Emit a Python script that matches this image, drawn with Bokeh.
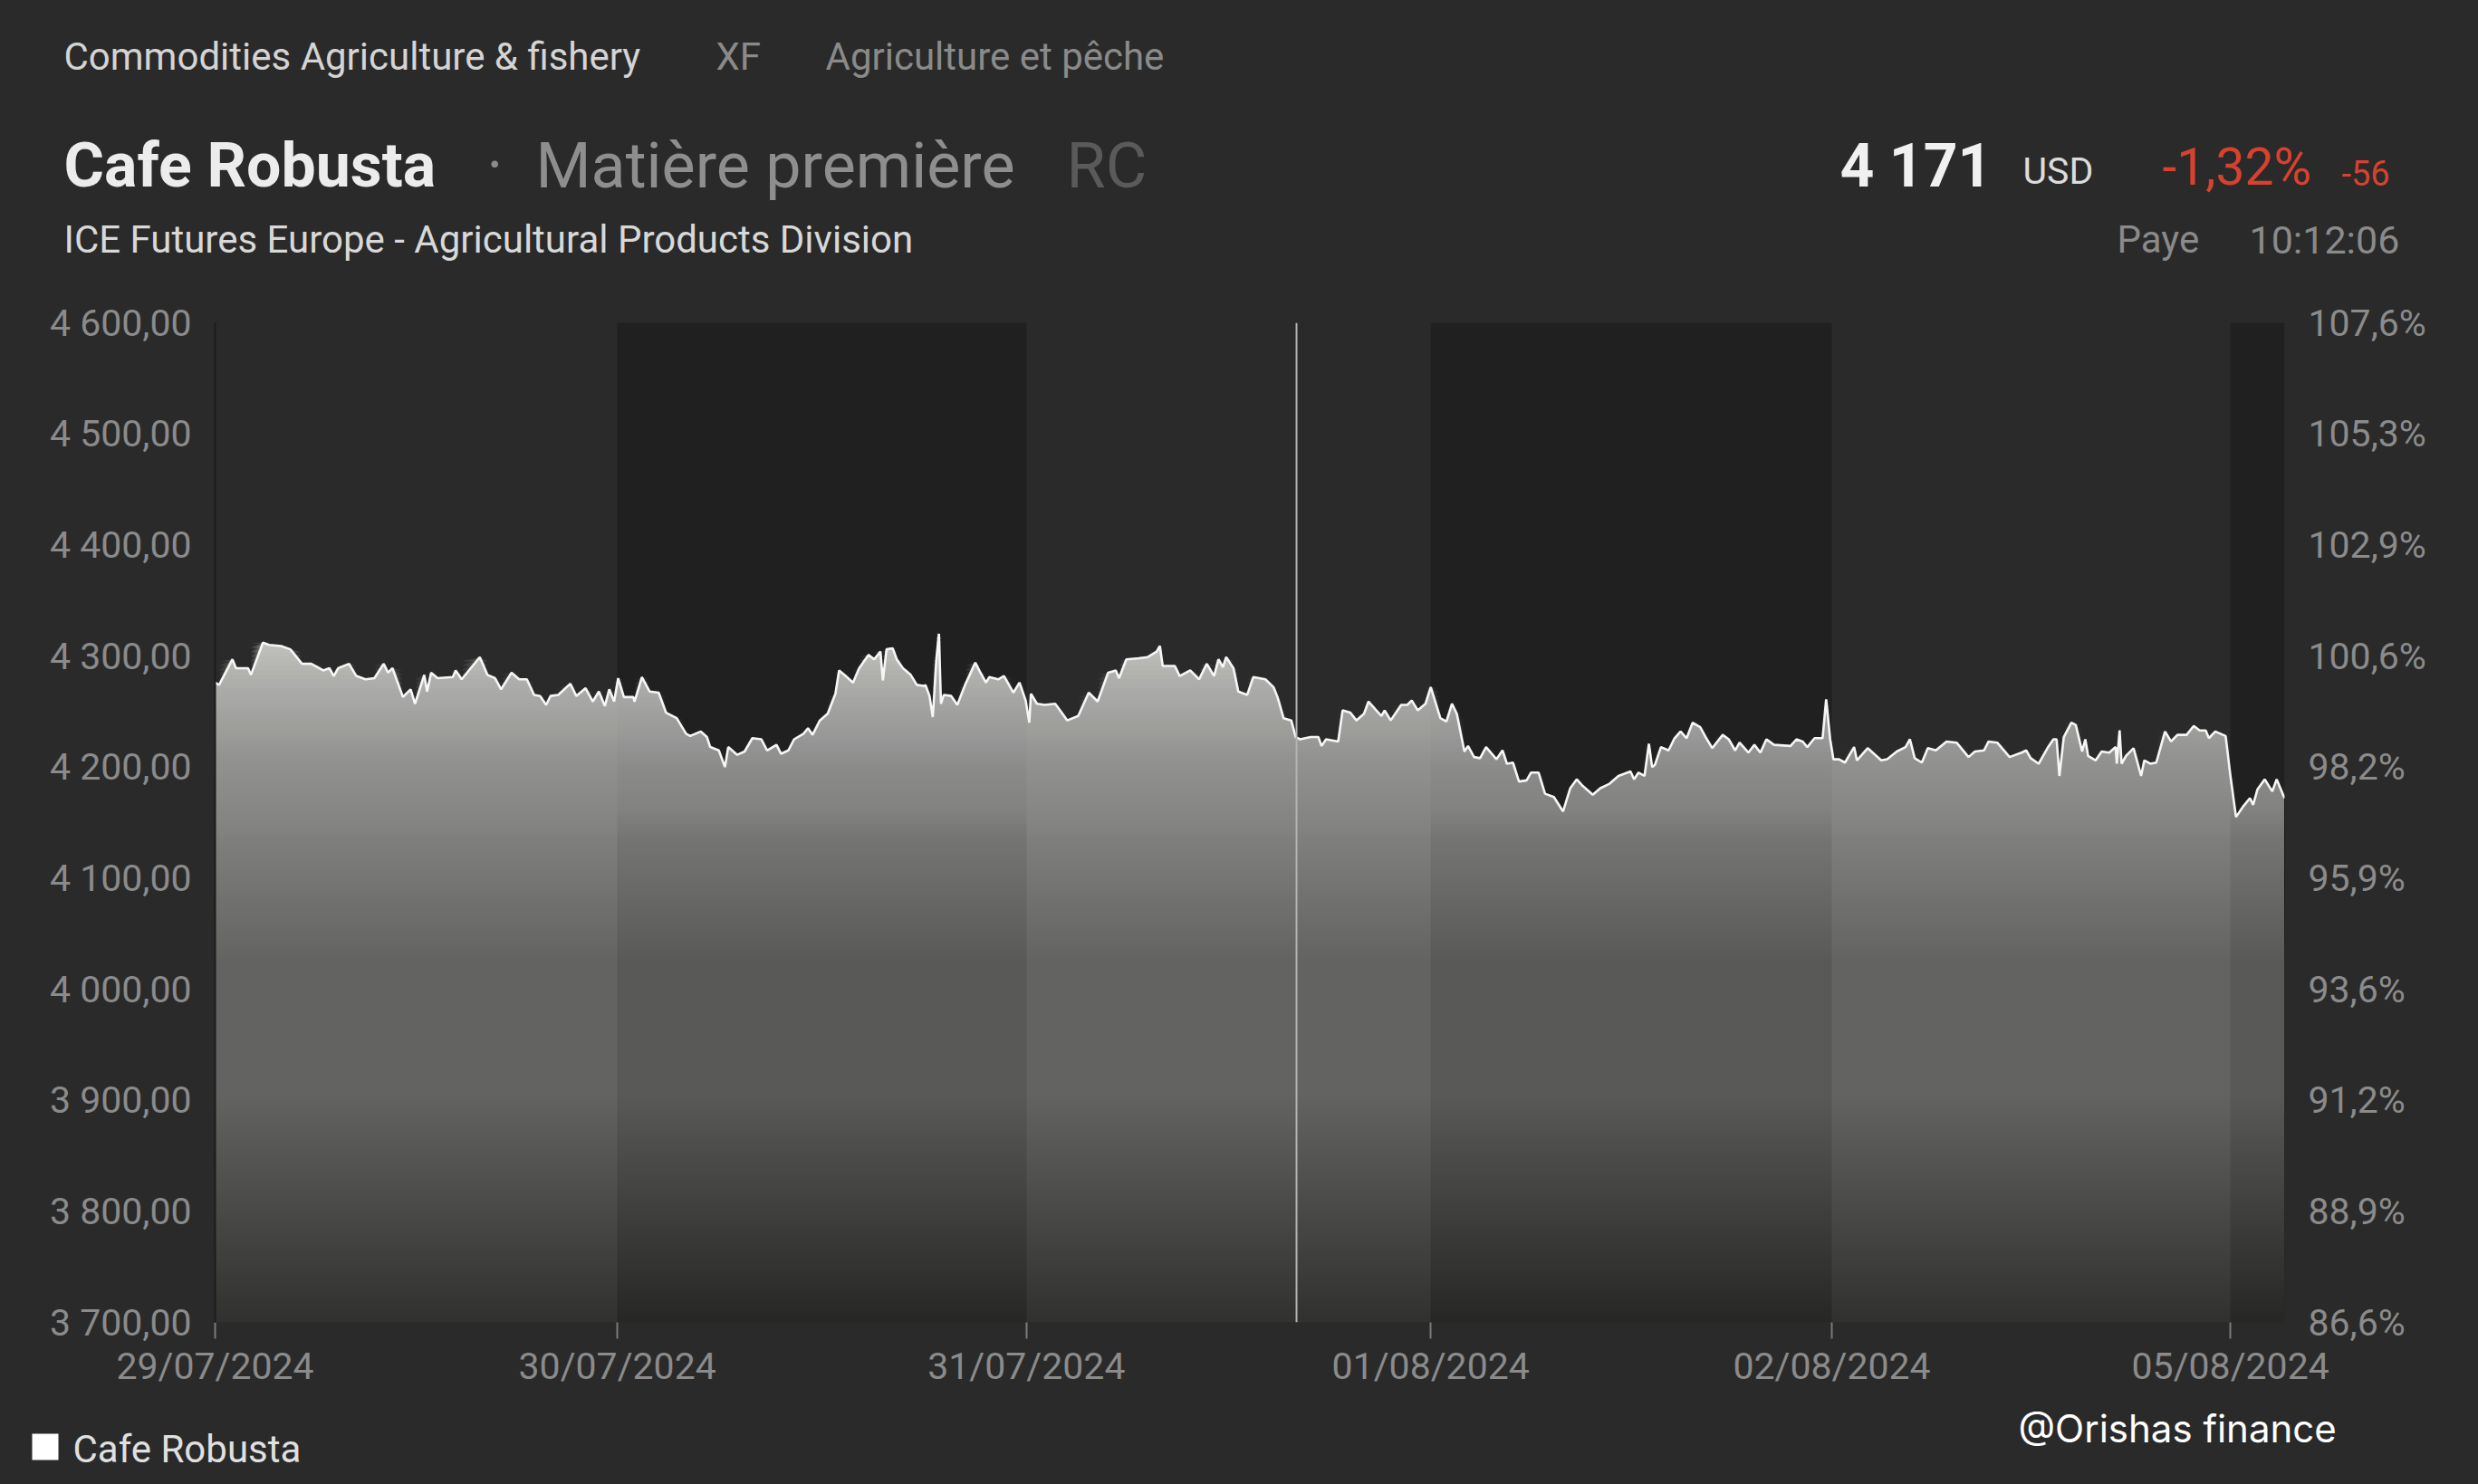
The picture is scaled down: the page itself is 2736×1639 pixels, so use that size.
import numpy as np
from bokeh.plotting import figure
from bokeh.layouts import column
from bokeh.models import Range1d, LinearAxis, FixedTicker, Span
from bokeh.core.properties import value
from bokeh.embed import file_html
from bokeh.resources import INLINE

# ---------------- data ----------------
# time in trading-session units (0 = 29/07 open, 1 = 30/07 open, ...)
times = [
    0.000, 0.010, 0.043, 0.052, 0.082, 0.089, 0.119, 0.134, 0.164, 0.187,
    0.216, 0.239, 0.269, 0.284, 0.295, 0.306, 0.333, 0.351, 0.374, 0.396,
    0.419, 0.430, 0.441, 0.467, 0.486, 0.497, 0.520, 0.527, 0.537, 0.553,
    0.591, 0.598, 0.613, 0.658, 0.677, 0.696, 0.711, 0.737, 0.756, 0.775,
    0.793, 0.808, 0.823, 0.834, 0.853, 0.883, 0.898, 0.921, 0.939, 0.954,
    0.969, 0.980, 0.992,
    1.002, 1.016, 1.039, 1.042, 1.060, 1.079, 1.101, 1.119, 1.145, 1.168,
    1.178, 1.204, 1.219, 1.227, 1.248, 1.263, 1.271, 1.293, 1.311, 1.330,
    1.352, 1.366, 1.389, 1.400, 1.418, 1.432, 1.455, 1.466, 1.477, 1.495,
    1.514, 1.533, 1.542, 1.558, 1.576, 1.591, 1.614, 1.628, 1.643, 1.649,
    1.658, 1.673, 1.683, 1.698, 1.717, 1.732, 1.750, 1.753, 1.763, 1.771,
    1.780, 1.786, 1.791, 1.798, 1.816, 1.831, 1.850, 1.875, 1.886, 1.901,
    1.909, 1.931, 1.945, 1.968, 1.983, 1.998,
    2.007, 2.011, 2.026, 2.045, 2.071, 2.083, 2.101, 2.128, 2.154, 2.176,
    2.202, 2.221, 2.229, 2.247, 2.277, 2.300, 2.322, 2.330, 2.337, 2.367,
    2.379, 2.405, 2.427, 2.446, 2.464, 2.475, 2.486, 2.494, 2.512, 2.524,
    2.546, 2.561, 2.591, 2.611, 2.621, 2.636, 2.655, 2.666, 2.677, 2.703,
    2.722, 2.730, 2.741, 2.771, 2.782, 2.801, 2.816, 2.835, 2.846, 2.863,
    2.878, 2.886, 2.901, 2.927, 2.942, 2.953, 2.968, 2.987, 3.000,
    3.024, 3.039, 3.053, 3.065, 3.084, 3.093, 3.108, 3.123, 3.138, 3.164,
    3.179, 3.190, 3.205, 3.220, 3.239, 3.250, 3.269, 3.285, 3.307, 3.330,
    3.348, 3.364, 3.379, 3.404, 3.423, 3.446, 3.468, 3.498, 3.507, 3.518,
    3.533, 3.544, 3.552, 3.559, 3.574, 3.593, 3.608, 3.623, 3.638, 3.653,
    3.672, 3.687, 3.702, 3.728, 3.743, 3.759, 3.770, 3.792, 3.807, 3.822,
    3.837, 3.856, 3.897, 3.912, 3.927, 3.939, 3.957, 3.977, 3.986, 3.996,
    4.004, 4.018, 4.033, 4.056, 4.063, 4.090, 4.124, 4.139, 4.163, 4.185,
    4.196, 4.208, 4.226, 4.241, 4.261, 4.288, 4.313, 4.343, 4.359, 4.382,
    4.393, 4.415, 4.446, 4.476, 4.488, 4.499, 4.519, 4.541, 4.556, 4.564,
    4.571, 4.582, 4.601, 4.612, 4.628, 4.636, 4.643, 4.662, 4.677, 4.696,
    4.712, 4.715, 4.722, 4.727, 4.738, 4.757, 4.776, 4.784, 4.799, 4.814,
    4.836, 4.851, 4.867, 4.890, 4.908, 4.923, 4.938, 4.946, 4.962, 4.988,
    5.000,
    5.014, 5.033, 5.049, 5.057, 5.068, 5.086, 5.105, 5.116, 5.131, 5.136,
]
prices = [
    4276, 4274, 4297, 4289, 4289, 4283, 4312, 4310, 4309, 4306,
    4293, 4293, 4287, 4289, 4282, 4289, 4293, 4282, 4279, 4280,
    4293, 4285, 4289, 4263, 4270, 4257, 4283, 4268, 4285, 4280,
    4281, 4287, 4279, 4299, 4283, 4280, 4270, 4285, 4279, 4279,
    4265, 4264, 4256, 4264, 4265, 4275, 4264, 4271, 4259, 4268,
    4255, 4270, 4259,
    4280, 4263, 4263, 4259, 4281, 4268, 4267, 4249, 4244, 4230,
    4228, 4232, 4227, 4218, 4215, 4200, 4218, 4211, 4214, 4226,
    4225, 4215, 4220, 4212, 4215, 4225, 4230, 4235, 4229, 4242,
    4248, 4266, 4287, 4282, 4276, 4289, 4301, 4297, 4304, 4278,
    4306, 4307, 4297, 4289, 4283, 4274, 4273, 4274, 4264, 4245,
    4298, 4320, 4257, 4265, 4264, 4256, 4274, 4294, 4286, 4276,
    4281, 4279, 4282, 4267, 4276, 4260,
    4240, 4266, 4257, 4256, 4257, 4251, 4242, 4246, 4267, 4259,
    4285, 4287, 4280, 4297, 4298, 4299, 4304, 4309, 4291, 4291,
    4282, 4287, 4279, 4293, 4282, 4297, 4290, 4299, 4289, 4268,
    4265, 4281, 4279, 4272, 4263, 4244, 4242, 4227, 4225, 4227,
    4227, 4219, 4225, 4223, 4251, 4249, 4242, 4248, 4259, 4252,
    4246, 4251, 4242, 4256, 4256, 4260, 4251, 4257, 4272,
    4244, 4241, 4257, 4248, 4214, 4219, 4209, 4208, 4218, 4207,
    4215, 4203, 4204, 4187, 4188, 4195, 4195, 4176, 4173, 4160,
    4181, 4189, 4183, 4175, 4181, 4185, 4192, 4196, 4189, 4195,
    4192, 4221, 4200, 4202, 4218, 4215, 4226, 4232, 4226, 4240,
    4236, 4226, 4217, 4229, 4225, 4215, 4222, 4213, 4220, 4213,
    4225, 4220, 4219, 4225, 4223, 4218, 4226, 4226, 4261, 4225,
    4207, 4207, 4204, 4218, 4206, 4217, 4206, 4207, 4214, 4218,
    4225, 4208, 4204, 4217, 4215, 4223, 4222, 4209, 4214, 4215,
    4223, 4222, 4209, 4213, 4215, 4208, 4203, 4217, 4225, 4225,
    4192, 4227, 4240, 4238, 4214, 4225, 4210, 4206, 4214, 4213,
    4218, 4203, 4233, 4203, 4210, 4217, 4192, 4206, 4203, 4204,
    4232, 4223, 4229, 4229, 4237, 4233, 4233, 4226, 4232, 4228,
    4192,
    4155, 4165, 4172, 4166, 4180, 4189, 4178, 4189, 4176, 4172,
]

# where each session (date) starts on the chart's time axis
session_index = [0, 1, 2, 3, 4, 5, 6]
session_starts = [0.0, 0.998, 2.013, 3.016, 4.011, 5.0, 5.989]
day_labels = ["29/07/2024", "30/07/2024", "31/07/2024",
              "01/08/2024", "02/08/2024", "05/08/2024"]
shaded_sessions = [1, 3, 5]

price_ticks = [3700, 3800, 3900, 4000, 4100, 4200, 4300, 4400, 4500, 4600]
price_labels = ["3 700,00", "3 800,00", "3 900,00", "4 000,00", "4 100,00",
                "4 200,00", "4 300,00", "4 400,00", "4 500,00", "4 600,00"]
pct_labels = ["86,6%", "88,9%", "91,2%", "93,6%", "95,9%",
              "98,2%", "100,6%", "102,9%", "105,3%", "107,6%"]

series_name = "Cafe Robusta"
cursor_time = 2.668
y_low, y_high = 3700, 4600

BG = "#2a2a2a"
BAND = "#202020"
W = 2736
H_HEAD, H_MAIN, H_FOOT = 308, 1232, 99

# session units -> time-axis units
xs = np.interp(times, session_index, session_starts)
x_end = float(xs[-1])
day_ticks = session_starts[:6]
cursor_x = float(np.interp(cursor_time, session_index, session_starts))


def text_fig(h):
    f = figure(width=W, height=h, output_backend="svg", toolbar_location=None,
               x_range=Range1d(0, W), y_range=Range1d(h, 0),
               x_axis_location=None, y_axis_location=None,
               min_border=0, background_fill_color=BG, border_fill_color=BG,
               outline_line_color=None, frame_align=False)
    f.grid.visible = False
    return f


def txt(fig, s, x, y, size, color, style="normal", font="Roboto"):
    fig.text(x=[x], y=[y], text=[s], text_font=value(font),
             text_font_size=value(size), text_color=color,
             text_font_style=value(style), text_baseline="alphabetic",
             text_align="left")


# ---------------- header ----------------
head = text_fig(H_HEAD)
txt(head, "Commodities Agriculture & fishery", 70, 62, "42px", "#d4d4d4")
txt(head, "XF", 790, 62, "42px", "#8a8a8a")
txt(head, "Agriculture et pêche", 911, 62, "42px", "#8a8a8a")

txt(head, "Cafe Robusta", 70, 182, "68px", "#ececec", "bold")
txt(head, "·", 537, 182, "68px", "#8c8c8c")
txt(head, "Matière première", 591, 182, "70px", "#8e8e8e")
txt(head, "RC", 1177, 182, "70px", "#5a5a5a")

txt(head, "ICE Futures Europe - Agricultural Products Division", 70, 264, "42px", "#d8d8d8")

txt(head, "4 171", 2031, 183, "66px", "#f0f0f0", "bold")
txt(head, "USD", 2233, 188, "41px", "#dcdcdc")
txt(head, "-1,32%", 2387, 184, "57px", "#d7422e")
txt(head, "-56", 2585, 190, "38px", "#d7422e")
txt(head, "Paye", 2337, 264, "42px", "#8a8a8a")
txt(head, "10:12:06", 2483, 264, "43px", "#8a8a8a")

# ---------------- main chart ----------------
p = figure(width=W, height=H_MAIN, output_backend="svg", toolbar_location=None,
           x_range=Range1d(0, x_end), y_range=Range1d(y_low, y_high),
           min_border_left=237, min_border_right=214,
           min_border_top=48, min_border_bottom=80,
           background_fill_color=BG, border_fill_color=BG,
           outline_line_color=None, frame_align=False)
p.grid.visible = False

AX_COL = "#8b8b8b"
AX_FONT = "Roboto"
AX_SIZE = "41px"

xa = p.xaxis[0]
xa.ticker = FixedTicker(ticks=day_ticks)
xa.major_label_overrides = {t: l for t, l in zip(day_ticks, day_labels)}
xa.axis_line_color = None
xa.major_tick_in = 0
xa.major_tick_out = 18
xa.major_tick_line_color = "#7a7a7a"
xa.major_tick_line_width = 2
xa.minor_tick_line_color = None
xa.major_label_standoff = 6
xa.major_label_text_color = AX_COL
xa.major_label_text_font = AX_FONT
xa.major_label_text_font_size = AX_SIZE

ya = p.yaxis[0]
ya.ticker = FixedTicker(ticks=price_ticks)
ya.major_label_overrides = {t: l for t, l in zip(price_ticks, price_labels)}
ya.axis_line_color = "#1c1c1c"
ya.axis_line_width = 2
ya.major_tick_line_color = None
ya.minor_tick_line_color = None
ya.major_tick_out = 0
ya.major_tick_in = 0
ya.major_label_standoff = 26
ya.major_label_text_color = AX_COL
ya.major_label_text_font = AX_FONT
ya.major_label_text_font_size = AX_SIZE

ra = LinearAxis(ticker=FixedTicker(ticks=price_ticks),
                major_label_overrides={t: l for t, l in zip(price_ticks, pct_labels)})
ra.axis_line_color = None
ra.major_tick_line_color = None
ra.minor_tick_line_color = None
ra.major_tick_out = 0
ra.major_tick_in = 0
ra.major_label_standoff = 26
ra.major_label_text_color = AX_COL
ra.major_label_text_font = AX_FONT
ra.major_label_text_font_size = AX_SIZE
p.add_layout(ra, "right")

# alternate session shading (under the area)
p.quad(left=[session_starts[s] for s in shaded_sessions],
       right=[min(session_starts[s + 1], x_end) for s in shaded_sessions],
       bottom=y_low, top=y_high, fill_color=BAND, line_color=None)

# gradient area: stacked translucent layers (each from its level up to the
# price), so the combined opacity rises linearly from bottom to the top
pr = np.array(prices, dtype=float)
units_per_px = (y_high - y_low) / 1104.0
step = 5 * units_per_px
top_val = pr.max()
n_steps = int(np.ceil((top_val - y_low) / step))
fill_rgb = (199, 200, 196)
a_bot = 0.04
prev_A = 0.0
for k in range(n_steps):
    lo = y_low + k * step
    frac = min((lo + step / 2 - y_low) / (top_val - y_low), 1.0)
    A = a_bot + (1 - a_bot) * frac
    if k == n_steps - 1:
        A = 1.0
    alpha = 1.0 - (1.0 - A) / (1.0 - prev_A)
    prev_A = A
    p.varea(x=xs, y1=lo, y2=np.maximum(pr, lo),
            fill_color=fill_rgb, fill_alpha=float(alpha))

# price line
p.line(xs, prices, line_color="#f6f6f6", line_width=2.6)

# cursor line
p.add_layout(Span(location=cursor_x, dimension="height",
                  line_color="#b4b4b4", line_width=2))

# ---------------- footer: legend + signature ----------------
foot = text_fig(H_FOOT)
foot.quad(left=[35], right=[64], top=[43], bottom=[72],
          fill_color="white", line_color=None)
txt(foot, series_name, 80, 60, "42px", "#e0e0e0")
txt(foot, "@Orishas finance", 2228, 37, "42px", "#ffffff", font="Inter")

layout = column(head, p, foot, spacing=0)

html = file_html(layout, INLINE)
html = html.replace("</head>",
                    "<style>html, body { background-color: #2a2a2a !important; }</style></head>", 1)
open("out.html", "w").write(html)
